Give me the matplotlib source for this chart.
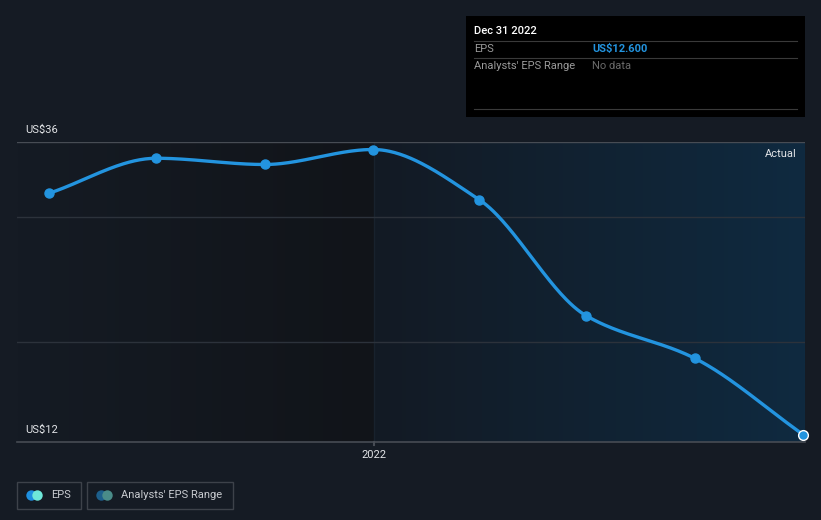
import numpy as np
import matplotlib
matplotlib.use("Agg")
import matplotlib.pyplot as plt
import matplotlib.dates as mdates
from matplotlib.patches import Rectangle
from matplotlib.colors import LinearSegmentedColormap
import datetime as dt

plt.rcParams['font.family'] = ['Roboto', 'DejaVu Sans']

# ---- data ----
dates = ["2021-03-31", "2021-06-30", "2021-09-30", "2021-12-31",
         "2022-03-31", "2022-06-30", "2022-09-30", "2022-12-31"]
eps = [31.9, 34.7, 34.2, 35.4, 31.4, 22.1, 18.7, 12.6]
y_labels = ["US$36", "US$12"]
y_label_vals = [36, 12]
grid_vals = [30, 20]
x_tick_label = "2022"
tooltip_date = "Dec 31 2022"
tooltip_eps = "US$12.600"

BG = "#151b24"
LINE = "#2394df"

W, H = 821, 520
fig = plt.figure(figsize=(W / 100, H / 100), dpi=100, facecolor=BG)

def fx(px):
    return px / W

def fy(py):
    return 1 - py / H

x0, x1, yt, yb = 17, 805, 142, 442
ax = fig.add_axes([fx(x0), fy(yb), fx(x1 - x0), (yb - yt) / H])
ax.set_facecolor(BG)
for s in ax.spines.values():
    s.set_visible(False)

xd = mdates.date2num([dt.datetime.fromisoformat(d) for d in dates])
split = mdates.date2num(dt.datetime(2022, 1, 1))
px_per_day = (803 - 373) / (xd[-1] - xd[3])
xmin = xd[3] - (373 - x0) / px_per_day
xmax = xd[-1] + (x1 - 803) / px_per_day
ymin, ymax = 12, 36
ax.set_xlim(xmin, xmax)
ax.set_ylim(ymin, ymax)

# shaded regions
grad = np.linspace(0, 1, 256).reshape(1, -1)
cm_left = LinearSegmentedColormap.from_list("l", [BG, "#111419"])
cm_right = LinearSegmentedColormap.from_list("r", ["#131a24", "#0f2a40"])
ax.imshow(grad, cmap=cm_left, extent=[xmin, split, ymin, ymax], aspect='auto', zorder=0)
ax.imshow(grad, cmap=cm_right, extent=[split, xmax, ymin, ymax], aspect='auto', zorder=0)
ax.axvline(split, color="#18222d", lw=1, zorder=1)

# gridlines
ax.axhline(36, color="#474c54", lw=1, zorder=1)
for g in grid_vals:
    ax.axhline(g, color="#2c323b", lw=1, zorder=1)
ax.axhline(12, color="#474c54", lw=1.2, zorder=1, clip_on=False)

# monotone cubic curve (Fritsch-Carlson) through points
xs = np.array(xd, dtype=float)
ys = np.array(eps, dtype=float)
h = np.diff(xs)
d = np.diff(ys) / h
m = np.zeros_like(ys)
m[0], m[-1] = d[0], d[-1]
for i in range(1, len(ys) - 1):
    if d[i - 1] * d[i] <= 0:
        m[i] = 0
    else:
        m[i] = (3 * (h[i - 1] + h[i])) / ((2 * h[i] + h[i - 1]) / d[i - 1] + (h[i] + 2 * h[i - 1]) / d[i])
cx, cy = [], []
for i in range(len(h)):
    t = np.linspace(0, 1, 60)
    h00 = 2 * t**3 - 3 * t**2 + 1
    h10 = t**3 - 2 * t**2 + t
    h01 = -2 * t**3 + 3 * t**2
    h11 = t**3 - t**2
    cx.extend(xs[i] + t * h[i])
    cy.extend(h00 * ys[i] + h10 * h[i] * m[i] + h01 * ys[i + 1] + h11 * h[i] * m[i + 1])
ax.plot(cx, cy, color=LINE, lw=2.4, zorder=3, solid_capstyle='round', clip_on=False)
ax.plot(xs[:-1], ys[:-1], 'o', color=LINE, ms=6.5, zorder=4, clip_on=False)
ax.plot(xs[-1:], ys[-1:], 'o', color=LINE, ms=7, mec="white", mew=1, zorder=4, clip_on=False)

ax.set_xticks([])
ax.set_yticks([])

# x tick
ax.plot([split, split], [12, 12 - 0.25], color="#474c54", lw=1.5, clip_on=False)

# texts
TXT = "#e2e4e7"
fig.text(fx(25), fy(130), y_labels[0], color=TXT, fontsize=8, va='center', ha='left')
fig.text(fx(25), fy(430), y_labels[1], color=TXT, fontsize=8, va='center', ha='left')
fig.text(fx(374), fy(455), x_tick_label, color=TXT, fontsize=8, va='center', ha='center')
fig.text(fx(797), fy(154), "Actual", color=TXT, fontsize=8, va='center', ha='right')

# tooltip
fig.patches.append(Rectangle((fx(466), fy(117)), fx(805 - 466), (117 - 16) / H,
                             transform=fig.transFigure, facecolor="#000000", edgecolor='none', zorder=5))
for ly in [41, 58, 109]:
    fig.lines.append(plt.Line2D([fx(474), fx(797)], [fy(ly), fy(ly)], transform=fig.transFigure,
                                color="#3a3a3a", lw=0.8, zorder=6))
fig.text(fx(474), fy(31), tooltip_date, color="white", fontsize=8, va='center', ha='left', zorder=7,
         fontweight='medium')
fig.text(fx(474), fy(49), "EPS", color="#9a9a9a", fontsize=8, va='center', ha='left', zorder=7)
fig.text(fx(592), fy(49), tooltip_eps, color=LINE, fontsize=8, va='center', ha='left', zorder=7,
         fontweight='bold')
fig.text(fx(474), fy(66), "Analysts' EPS Range", color="#9a9a9a", fontsize=8, va='center', ha='left', zorder=7)
fig.text(fx(592), fy(66), "No data", color="#6a6a6a", fontsize=8, va='center', ha='left', zorder=7)

# legend
def legbox(xl, xr, c1, c2, label):
    fig.patches.append(Rectangle((fx(xl), fy(509)), fx(xr - xl), (509 - 482) / H,
                                 transform=fig.transFigure, facecolor='none', edgecolor="#3d424a", lw=1))
    cxp = xl + 14
    for off, c in [(0, c1), (6, c2)]:
        fig.lines.append(plt.Line2D([fx(cxp + off)], [fy(494.5)], transform=fig.transFigure,
                                    marker='o', ms=7.5, color=c, mec='none', ls='none'))
    fig.text(fx(cxp + 20), fy(494.5), label, color="#c8cbd0", fontsize=8, va='center', ha='left')

legbox(17, 81, "#1e8fe0", "#6ee8d9", "EPS")
legbox(87, 233, "#1d5f8c", "#4a8c89", "Analysts' EPS Range")

fig.savefig("out.png", dpi=100, facecolor=BG)
